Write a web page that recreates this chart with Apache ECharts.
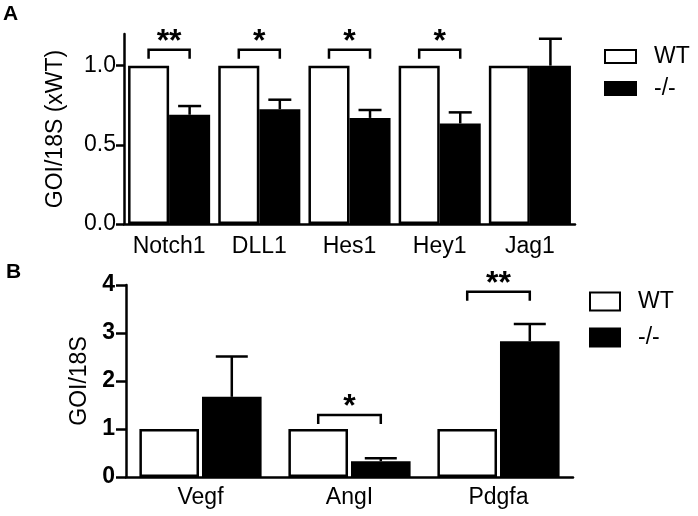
<!DOCTYPE html>
<html><head><meta charset="utf-8">
<script src="https://cdn.jsdelivr.net/npm/echarts@6/dist/echarts.min.js"></script>
<style>html,body{margin:0;padding:0;background:#fff}#c{width:698px;height:516px}</style>
</head><body><div id="c"></div>
<script>
// ---- Panel A data ----
const genesA = ['Notch1', 'DLL1', 'Hes1', 'Hey1', 'Jag1'];
const wtA = [1, 1, 1, 1, 1];
const koA = [0.69, 0.725, 0.67, 0.635, 1.0];
const koErrTopA = [0.745, 0.785, 0.72, 0.705, 1.17];
const yTicksA = [0, 0.5, 1.0];
const sigCatA = [0, 1, 2, 3];
const sigTextA = ['**', '*', '*', '*'];
const sigLevelA = [1.10, 1.10, 1.10, 1.10];

// ---- Panel B data ----
const genesB = ['Vegf', 'AngI', 'Pdgfa'];
const wtB = [1, 1, 1];
const koB = [1.67, 0.33, 2.83];
const koErrTopB = [2.51, 0.39, 3.19];
const yTicksB = [0, 1, 2, 3, 4];
const sigCatB = [1, 2];
const sigTextB = ['*', '**'];
const sigLevelB = [1.29, 3.86];

const FONT = 'Liberation Sans, Arial, sans-serif';
const FS = 23;
const LW = 2.5;
const gapA = 0.09, barGapA = 0;
const gapB = 0.18, barGapB = 0.05;

function halfSpacing(cw, gap, bg) {
  const w = cw * (1 - gap) / (2 + bg);
  return (w + bg * w) / 2;
}

function errSeries(idx, means, tops, gap, bg, cap) {
  return {
    type: 'custom', xAxisIndex: idx, yAxisIndex: idx, z: 5, silent: true,
    data: means.map((m, i) => [i, m, tops[i]]),
    renderItem: (p, api) => {
      const i = api.value(0);
      const c0 = api.coord([i, api.value(1)]);
      const c1 = api.coord([i, api.value(2)]);
      const cw = api.size([1, 0])[0];
      const x = c0[0] + halfSpacing(cw, gap, bg);
      return { type: 'group', children: [
        { type: 'line', shape: { x1: x, y1: c0[1], x2: x, y2: c1[1] }, style: { stroke: '#000', lineWidth: LW } },
        { type: 'line', shape: { x1: x - cap / 2, y1: c1[1], x2: x + cap / 2, y2: c1[1] }, style: { stroke: '#000', lineWidth: LW } }
      ]};
    }
  };
}

function sigSeries(idx, cats, texts, levels, gap, bg, starSize) {
  return {
    type: 'custom', xAxisIndex: idx, yAxisIndex: idx, z: 5, silent: true, clip: false,
    data: cats.map((c, i) => [c, levels[i], texts[i]]),
    renderItem: (p, api) => {
      const i = api.value(0);
      const c = api.coord([i, api.value(1)]);
      const cw = api.size([1, 0])[0];
      const d = halfSpacing(cw, gap, bg);
      const xL = c[0] - d, xR = c[0] + d, y = c[1];
      return { type: 'group', children: [
        { type: 'polyline', shape: { points: [[xL, y + 9], [xL, y], [xR, y], [xR, y + 9]] }, style: { stroke: '#000', lineWidth: LW, fill: null } },
        { type: 'text', style: { x: c[0], y: y + 8, text: texts[p.dataIndex], textAlign: 'center', textVerticalAlign: 'bottom', font: 'bold ' + starSize + 'px ' + FONT, fill: '#000' } }
      ]};
    }
  };
}

const axisLine = { show: true, lineStyle: { color: '#000', width: LW } };

const option = {
  animation: false,
  backgroundColor: '#fff',
  title: [
    { text: 'A', left: 3, top: 4, padding: 0, textStyle: { fontFamily: FONT, fontWeight: 'bold', fontSize: 21, color: '#000' } },
    { text: 'B', left: 6, top: 262, padding: 0, textStyle: { fontFamily: FONT, fontWeight: 'bold', fontSize: 21, color: '#000' } }
  ],
  grid: [
    { left: 124, right: 123, top: 34, bottom: 292 },
    { left: 126, right: 125, top: 285, bottom: 39 }
  ],
  legend: [
    { orient: 'vertical', left: 604, top: 45, padding: 0, itemWidth: 31, itemHeight: 13, itemGap: 9, icon: 'rect',
      data: ['WT', '-/-'], selectedMode: false,
      textStyle: { fontFamily: FONT, fontSize: FS, color: '#000', lineHeight: 23, padding: [0, 0, 0, 13] } },
    { orient: 'vertical', left: 589, top: 290, padding: 0, itemWidth: 30, itemHeight: 18, itemGap: 13, icon: 'rect',
      data: ['WT', '-/-'], selectedMode: false,
      textStyle: { fontFamily: FONT, fontSize: FS, color: '#000', lineHeight: 23, padding: [0, 0, 0, 13] } }
  ],
  xAxis: [
    { type: 'category', gridIndex: 0, data: genesA, axisLine: axisLine, axisTick: { show: false },
      axisLabel: { interval: 0, fontFamily: FONT, fontSize: FS, color: '#000', margin: 11 } },
    { type: 'category', gridIndex: 1, data: genesB, axisLine: axisLine, axisTick: { show: false },
      axisLabel: { interval: 0, fontFamily: FONT, fontSize: FS, color: '#000', margin: 9 } }
  ],
  yAxis: [
    { type: 'value', gridIndex: 0, min: 0, max: 1.2, interval: 0.5, splitLine: { show: false },
      axisLine: axisLine,
      axisTick: { show: true, length: 8, lineStyle: { color: '#000', width: LW }, customValues: yTicksA },
      axisLabel: { fontFamily: FONT, fontSize: FS, color: '#000', margin: 8, customValues: yTicksA, formatter: v => v.toFixed(1) },
      name: 'GOI/18S (xWT)', nameLocation: 'middle', nameGap: 57,
      nameTextStyle: { fontFamily: FONT, fontSize: FS, color: '#000' } },
    { type: 'value', gridIndex: 1, min: 0, max: 4, interval: 1, splitLine: { show: false },
      axisLine: axisLine,
      axisTick: { show: true, length: 10, lineStyle: { color: '#000', width: LW }, customValues: yTicksB },
      axisLabel: { fontFamily: FONT, fontSize: FS, fontWeight: 'bold', color: '#000', margin: 11, customValues: yTicksB },
      name: 'GOI/18S', nameLocation: 'middle', nameGap: 33,
      nameTextStyle: { fontFamily: FONT, fontSize: FS, color: '#000' } }
  ],
  series: [
    { type: 'bar', name: 'WT', xAxisIndex: 0, yAxisIndex: 0, data: wtA, barGap: '0%', barCategoryGap: (gapA * 100) + '%',
      itemStyle: { color: '#fff', borderColor: '#000', borderWidth: LW } },
    { type: 'bar', name: '-/-', xAxisIndex: 0, yAxisIndex: 0, data: koA, barGap: '0%', barCategoryGap: (gapA * 100) + '%',
      itemStyle: { color: '#000', borderColor: '#000', borderWidth: LW } },
    { type: 'bar', name: 'WT', xAxisIndex: 1, yAxisIndex: 1, data: wtB, barGap: (barGapB * 100) + '%', barCategoryGap: (gapB * 100) + '%',
      itemStyle: { color: '#fff', borderColor: '#000', borderWidth: LW } },
    { type: 'bar', name: '-/-', xAxisIndex: 1, yAxisIndex: 1, data: koB, barGap: (barGapB * 100) + '%', barCategoryGap: (gapB * 100) + '%',
      itemStyle: { color: '#000', borderColor: '#000', borderWidth: LW } },
    errSeries(0, koA, koErrTopA, gapA, barGapA, 23),
    errSeries(1, koB, koErrTopB, gapB, barGapB, 32),
    sigSeries(0, sigCatA, sigTextA, sigLevelA, gapA, barGapA, 32),
    sigSeries(1, sigCatB, sigTextB, sigLevelB, gapB, barGapB, 32)
  ]
};

const chart = echarts.init(document.getElementById('c'), null, { renderer: 'canvas' });
chart.setOption(option);
</script>
</body></html>
